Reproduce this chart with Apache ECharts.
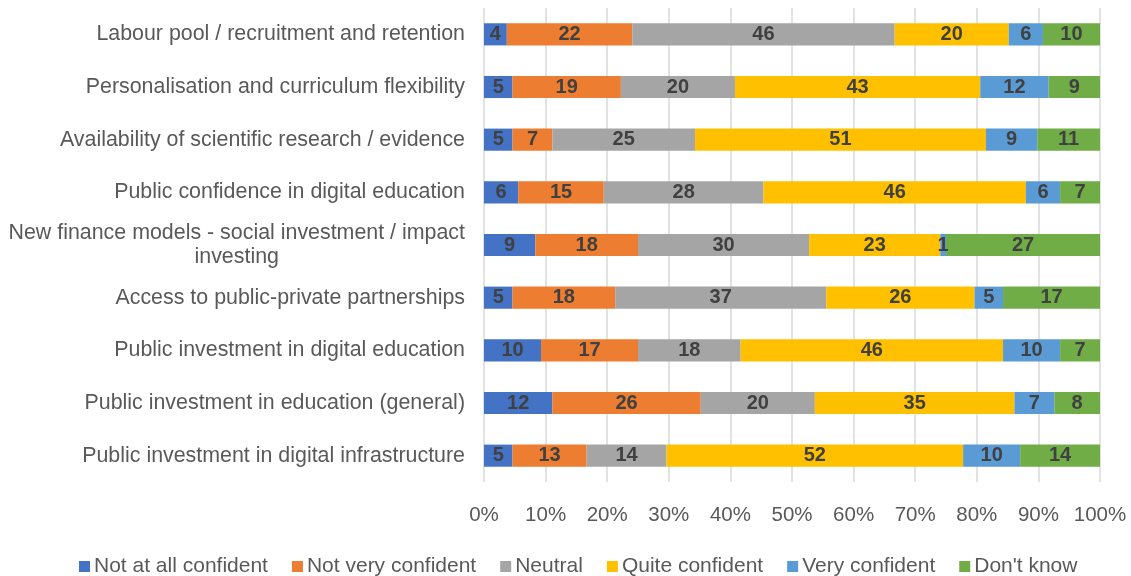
<!DOCTYPE html>
<html>
<head>
<meta charset="utf-8">
<script src="https://cdn.jsdelivr.net/npm/echarts@6/dist/echarts.min.js"></script>
<style>
  html, body { margin: 0; padding: 0; background: #ffffff; }
  #chart { width: 1131px; height: 576px; }
</style>
</head>
<body>
<div id="chart"></div>
<script>
// Factors, top to bottom
const categories = [
  'Labour pool / recruitment and retention',
  'Personalisation and curriculum flexibility',
  'Availability of scientific research / evidence',
  'Public confidence in digital education',
  'New finance models - social investment / impact investing',
  'Access to public-private partnerships',
  'Public investment in digital education',
  'Public investment in education (general)',
  'Public investment in digital infrastructure'
];

// Response counts per factor (same order as categories)
const notAtAllConfident = [4, 5, 5, 6, 9, 5, 10, 12, 5];
const notVeryConfident  = [22, 19, 7, 15, 18, 18, 17, 26, 13];
const neutral           = [46, 20, 25, 28, 30, 37, 18, 20, 14];
const quiteConfident    = [20, 43, 51, 46, 23, 26, 46, 35, 52];
const veryConfident     = [6, 12, 9, 6, 1, 5, 10, 7, 10];
const dontKnow          = [10, 9, 11, 7, 27, 17, 7, 8, 14];

const seriesNames = ['Not at all confident', 'Not very confident', 'Neutral',
                     'Quite confident', 'Very confident', "Don't know"];
const seriesValues = [notAtAllConfident, notVeryConfident, neutral,
                      quiteConfident, veryConfident, dontKnow];
const seriesColors = ['#4472C4', '#ED7D31', '#A5A5A5', '#FFC000', '#5B9BD5', '#70AD47'];

const xTickLabels = ['0%', '10%', '20%', '30%', '40%', '50%', '60%', '70%', '80%', '90%', '100%'];

// Row totals, used to scale each row to 100%
const totals = categories.map((_, i) => seriesValues.reduce((s, arr) => s + arr[i], 0));

const labelFont = 'Liberation Sans, Arial, sans-serif';

// Break long category names into lines of at most maxLen characters
function wrap(text, maxLen) {
  const words = text.split(' ');
  const lines = [];
  let cur = '';
  words.forEach(w => {
    const next = cur ? cur + ' ' + w : w;
    if (next.length > maxLen && cur) { lines.push(cur); cur = w; }
    else cur = next;
  });
  if (cur) lines.push(cur);
  return lines;
}

const chart = echarts.init(document.getElementById('chart'), null, { renderer: 'canvas' });

chart.setOption({
  backgroundColor: '#ffffff',
  animation: false,
  grid: { left: 484, right: 31, top: 8, bottom: 94, containLabel: false },
  legend: {
    top: 551,
    left: 74,
    itemWidth: 11,
    itemHeight: 11,
    itemGap: 24,
    icon: 'rect',
    textStyle: { fontFamily: labelFont, fontSize: 21, color: '#595959', padding: [0, 0, 0, -1] },
    data: seriesNames
  },
  xAxis: {
    type: 'value',
    min: 0,
    max: 100,
    interval: 10,
    axisLine: { show: false },
    axisTick: { show: false },
    splitLine: { show: true, lineStyle: { color: '#D9D9D9', width: 1.5 } },
    axisLabel: {
      margin: 23,
      fontFamily: labelFont,
      fontSize: 20.5,
      color: '#595959',
      formatter: v => xTickLabels[Math.round(v / 10)]
    }
  },
  yAxis: {
    type: 'category',
    inverse: true,
    data: categories,
    axisLine: { show: false },
    axisTick: { show: false },
    axisLabel: {
      margin: 19,
      fontFamily: labelFont,
      fontSize: 21.4,
      color: '#595959',
      lineHeight: 24,
      formatter: v => wrap(v, 48).map(l => '{c|' + l + '}').join('\n'),
      rich: {
        c: { align: 'center', fontFamily: labelFont, fontSize: 21.4, color: '#595959', lineHeight: 24 }
      }
    }
  },
  series: seriesNames.map((name, s) => ({
    name: name,
    type: 'bar',
    stack: 'total',
    barWidth: '42%',
    itemStyle: { color: seriesColors[s] },
    label: {
      show: true,
      position: 'inside',
      fontFamily: labelFont,
      fontWeight: 'bold',
      fontSize: 20,
      color: '#404040',
      formatter: p => String(p.data.raw)
    },
    data: seriesValues[s].map((v, i) => ({ value: v / totals[i] * 100, raw: v }))
  }))
});
</script>
</body>
</html>
